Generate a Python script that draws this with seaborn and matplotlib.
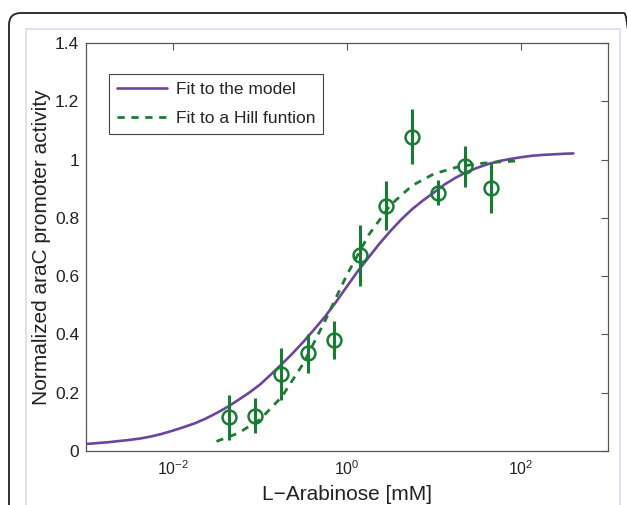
import matplotlib
matplotlib.use("Agg")
import matplotlib.pyplot as plt
import matplotlib.patches as mpatches
from matplotlib.ticker import NullLocator
from matplotlib.transforms import IdentityTransform
import pandas as pd
import seaborn as sns

# --------------------------------------------------
# Data
# --------------------------------------------------
# measured promoter activity (open circles with error bars)
arabinose = [0.044, 0.088, 0.176, 0.352, 0.703, 1.41, 2.81, 5.63, 11.25, 22.5, 45.0]
activity = [0.116, 0.121, 0.264, 0.335, 0.380, 0.671, 0.842, 1.078, 0.887, 0.977, 0.903]
activity_err = [0.077, 0.060, 0.089, 0.067, 0.066, 0.104, 0.084, 0.094, 0.044, 0.071, 0.086]

# "Fit to the model" curve
model_x = [0.001, 0.00133, 0.00178, 0.00237, 0.00316, 0.00422, 0.00562, 0.0075,
           0.01, 0.0133, 0.0178, 0.0237, 0.0316, 0.0422, 0.0562, 0.075,
           0.1, 0.133, 0.178, 0.237, 0.316, 0.422, 0.562, 0.75,
           1.0, 1.33, 1.78, 2.37, 3.16, 4.22, 5.62, 7.5,
           10.0, 13.3, 17.8, 23.7, 31.6, 42.2, 56.2, 75.0,
           100.0, 133.0, 178.0, 237.0, 316.0, 400.0]
model_y = [0.024, 0.027, 0.030, 0.034, 0.038, 0.043, 0.050, 0.059,
           0.070, 0.082, 0.095, 0.111, 0.130, 0.151, 0.175, 0.200,
           0.228, 0.262, 0.298, 0.335, 0.375, 0.418, 0.462, 0.512,
           0.565, 0.617, 0.665, 0.712, 0.755, 0.795, 0.830, 0.860,
           0.887, 0.915, 0.938, 0.957, 0.972, 0.985, 0.995, 1.002,
           1.008, 1.013, 1.016, 1.018, 1.020, 1.021]

# "Fit to a Hill funtion" curve
hill_x = [0.0316, 0.0562, 0.1, 0.178, 0.316, 0.562, 1.0, 1.78, 3.16, 5.62,
          10.0, 17.8, 31.6, 56.2, 100.0]
hill_y = [0.033, 0.061, 0.108, 0.186, 0.301, 0.448, 0.605, 0.742, 0.844, 0.911,
          0.951, 0.973, 0.986, 0.992, 0.996]

x_ticks = [1e-2, 1e0, 1e2]
x_tick_labels = [r"$\mathregular{10^{-2}}$", r"$\mathregular{10^{0}}$", r"$\mathregular{10^{2}}$"]
y_ticks = [0, 0.2, 0.4, 0.6, 0.8, 1.0, 1.2, 1.4]
y_tick_labels = ["0", "0.2", "0.4", "0.6", "0.8", "1", "1.2", "1.4"]

purple = "#6b45a0"
green = "#157f31"

# --------------------------------------------------
# Plot
# --------------------------------------------------
sns.set_theme(style="white")
plt.rcParams["font.family"] = ["Liberation Sans", "DejaVu Sans"]

fig = plt.figure(figsize=(6.27, 5.05), dpi=100)

# page frames around the figure
outer = mpatches.FancyBboxPatch((9, -40), 627, 532, boxstyle="round,pad=0,rounding_size=12",
                                transform=IdentityTransform(), fill=False,
                                edgecolor="#222222", linewidth=1.3)
inner = mpatches.Rectangle((26, -40), 594, 516, transform=IdentityTransform(),
                           fill=False, edgecolor="#dedef2", linewidth=1.3)
fig.add_artist(outer)
fig.add_artist(inner)

ax = fig.add_axes([86 / 627, 1 - 451 / 505, 522 / 627, 408 / 505])

model_df = pd.DataFrame({"x": model_x, "y": model_y})
hill_df = pd.DataFrame({"x": hill_x, "y": hill_y})

sns.lineplot(data=model_df, x="x", y="y", ax=ax, color=purple, linewidth=1.9,
             sort=False, estimator=None, label="Fit to the model")
sns.lineplot(data=hill_df, x="x", y="y", ax=ax, color=green, linewidth=2.0,
             sort=False, estimator=None, label="Fit to a Hill funtion")
line_model, line_hill = ax.lines[0], ax.lines[1]
line_hill.set_dashes([2.6, 2.4])
line_hill.set_color("#1f7a34")

ax.errorbar(arabinose, activity, yerr=activity_err, fmt="o", ms=10, mfc="none",
            mec=green, mew=1.8, ecolor=green, elinewidth=2.2, capsize=0, zorder=3)

ax.set_xscale("log")
ax.set_xlim(1e-3, 1e3)
ax.set_ylim(0, 1.4)
ax.set_xticks(x_ticks)
ax.set_xticklabels(x_tick_labels)
ax.xaxis.set_minor_locator(NullLocator())
ax.set_yticks(y_ticks)
ax.set_yticklabels(y_tick_labels)

ax.tick_params(axis="both", which="both", direction="in", top=True, right=True,
               length=5, width=0.8, color="#555555", labelcolor="#222222")
ax.tick_params(axis="x", labelsize=11.5, pad=6)
ax.tick_params(axis="y", labelsize=12.5, pad=5)

for spine in ax.spines.values():
    spine.set_color("#555555")
    spine.set_linewidth(0.9)

ax.set_xlabel("L\u2212Arabinose [mM]", fontsize=15, color="#222222", labelpad=5)
ax.set_ylabel("Normalized araC promoter activity", fontsize=15, color="#222222", labelpad=3)

ax.legend(handles=[line_model, line_hill], loc="upper left",
          bbox_to_anchor=(0.044, 0.924), borderaxespad=0, fontsize=12.5,
          frameon=True, fancybox=False, edgecolor="#444444", framealpha=1,
          handlelength=2.9, handletextpad=0.5, labelspacing=0.8, borderpad=0.45)
ax.get_legend().get_frame().set_linewidth(0.8)

plt.savefig("out.png", dpi=100)
plt.close()
